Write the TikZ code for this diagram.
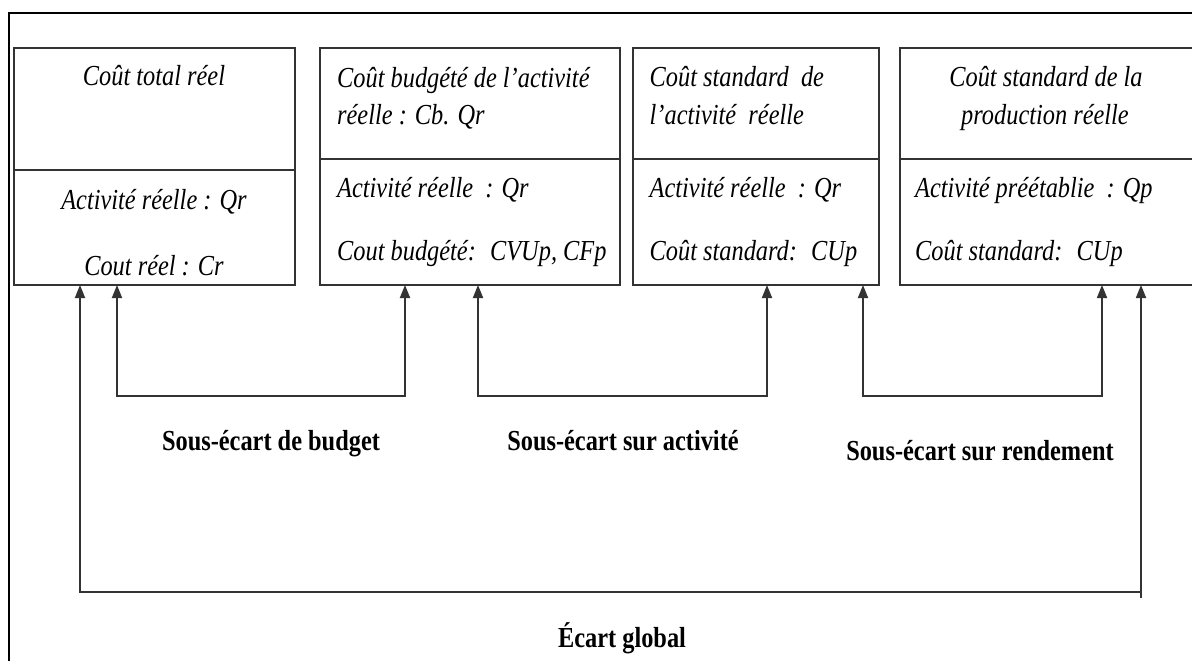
\documentclass[tikz,border=0pt]{standalone}
\usepackage{fontspec}
\setmainfont{Liberation Serif}
\newfontfamily\rf[FakeStretch=0.84]{Liberation Serif}
\usetikzlibrary{arrows.meta}
\begin{document}
\begin{tikzpicture}[x=1bp,y=-1bp,
  box/.style={draw=black!80, line width=2.2bp, inner sep=0, outer sep=0, anchor=north west},
  frame/.style={draw=black, line width=2.8bp, inner sep=0, outer sep=0, anchor=north west},
  it/.style={font=\rf\itshape\fontsize{29bp}{34bp}\selectfont, inner sep=0},
  lab/.style={font=\rf\bfseries\fontsize{29bp}{34bp}\selectfont, inner sep=0, anchor=base},
  con/.style={draw=black!80, line width=1.8bp, {Triangle[length=13bp,width=10bp]}-{Triangle[length=13bp,width=10bp]}},
  stub/.style={draw=black!80, line width=1.8bp},
]
\useasboundingbox (0,0) rectangle (1192,661);
\clip (0,0) rectangle (1192,661);

% outer frame (only top and left visible)
\node[frame, minimum width=1300bp, minimum height=800bp] (fr) at (9,13) {};

% boxes: top and bottom parts
\node[box, minimum width=281bp, minimum height=122bp] (b1t) at (14,48) {};
\node[box, minimum width=281bp, minimum height=115bp] (b1b) at (14,170) {};
\node[box, minimum width=300bp, minimum height=111bp] (b2t) at (320,48) {};
\node[box, minimum width=300bp, minimum height=126bp] (b2b) at (320,159) {};
\node[box, minimum width=246bp, minimum height=111bp] (b3t) at (633,48) {};
\node[box, minimum width=246bp, minimum height=126bp] (b3b) at (633,159) {};
\node[box, minimum width=400bp, minimum height=111bp] (b4t) at (900,48) {};
\node[box, minimum width=400bp, minimum height=126bp] (b4b) at (900,159) {};

% texts box 1
\node[it, anchor=base] (t1a) at (154,86) {Coût total réel};
\node[it, anchor=base] (t1b) at (154,210) {Activité réelle : Qr};
\node[it, anchor=base] (t1c) at (154,275) {Cout réel : Cr};
% box 2
\node[it, anchor=base west] (t2a) at (337,88) {Coût budgété de l’activité};
\node[it, anchor=base west] (t2b) at (337,125) {réelle : Cb. Qr};
\node[it, anchor=base west] (t2c) at (337,198) {Activité réelle~ : Qr};
\node[it, anchor=base west] (t2d) at (337,260) {Cout budgété:~ CVUp, CFp};
% box 3
\node[it, anchor=base west] (t3a) at (649.5,87) {Coût standard~ de};
\node[it, anchor=base west] (t3b) at (649.5,125) {l’activité~ réelle};
\node[it, anchor=base west] (t3c) at (649.5,198) {Activité réelle~ : Qr};
\node[it, anchor=base west] (t3d) at (649.5,260) {Coût standard:~ CUp};
% box 4
\node[it, anchor=base] (t4a) at (1046,87) {Coût standard de la};
\node[it, anchor=base] (t4b) at (1045,125) {production réelle};
\node[it, anchor=base west] (t4c) at (915,198) {Activité préétablie~ : Qp};
\node[it, anchor=base west] (t4d) at (915,260) {Coût standard:~ CUp};

% labels
\node[lab] (l1) at (271,450) {Sous-écart de budget};
\node[lab] (l2) at (623,450) {Sous-écart sur activité};
\node[lab] (l3) at (980,460) {Sous-écart sur rendement};
\node[lab] (l4) at (622,647) {Écart global};

% x positions of connector ends
\coordinate (x80) at (80,0);
\coordinate (x117) at (117,0);
\coordinate (x405) at (405,0);
\coordinate (x478) at (478,0);
\coordinate (x767) at (767,0);
\coordinate (x863) at (863,0);
\coordinate (x1102) at (1102,0);
\coordinate (x1141) at (1141,0);
\coordinate (g1) at (1141,592);

% connectors
\draw[con] (b1b.south -| x117) -- ++(0,111) -| (b2b.south -| x405);
\draw[con] (b2b.south -| x478) -- ++(0,111) -| (b3b.south -| x767);
\draw[con] (b3b.south -| x863) -- ++(0,111) -| (b4b.south -| x1102);
\draw[con] (b1b.south -| x80) |- (g1) -- (b4b.south -| x1141);
\draw[stub] (g1) -- ++(0,6);
\end{tikzpicture}
\end{document}
